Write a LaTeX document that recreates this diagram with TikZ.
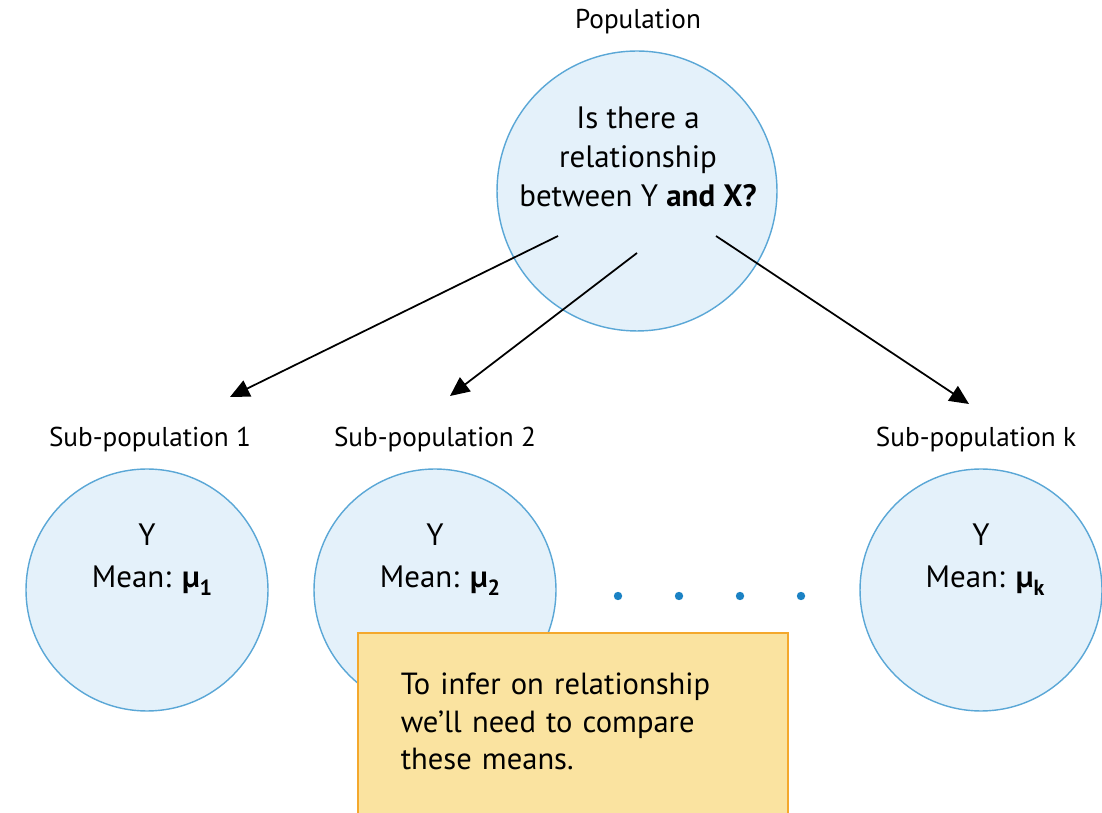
\documentclass[tikz,border=0pt]{standalone}
\usepackage{fontspec}
\setmainfont{PT Sans}
\usetikzlibrary{arrows.meta}

\definecolor{popfill}{HTML}{E4F1FA}
\definecolor{popline}{HTML}{5AA7D6}
\definecolor{dotblue}{HTML}{1B82C4}
\definecolor{notefill}{HTML}{FAE3A0}
\definecolor{noteline}{HTML}{F4A82C}

\newcommand{\meanof}[1]{\textbf{µ\raisebox{-0.5ex}{\fontsize{12.5}{12}\selectfont #1}}}

\begin{document}
\begin{tikzpicture}[x=0.02cm, y=-0.02cm,
    popcircle/.style={circle, draw=popline, fill=popfill, line width=0.8pt, inner sep=0pt},
    bigtext/.style={font=\fontsize{17.6}{22}\selectfont, align=center, inner sep=0pt},
    labeltext/.style={font=\fontsize{15.5}{18}\selectfont, inner sep=0pt},
    toparrow/.style={-{Triangle[length=11pt,width=10pt]}, line width=1pt},
    notebox/.style={rectangle, draw=noteline, fill=notefill, line width=0.9pt,
        align=left, text width=6.88cm, inner xsep=0.86cm, inner ysep=0.8cm,
        text depth=1.6cm, font=\fontsize{17.4}{21.5}\selectfont}]
    \useasboundingbox (0,0) rectangle (1102,813);
    \clip (0,0) rectangle (1102,813);
    % The population and its question.
        \node[labeltext] (poplabel) at (638,22) {Population};
        \node[popcircle, minimum size=5.6cm] (pop) at (637,191) {};
        \node[bigtext] (question) at (638,157) {Is there a\\relationship\\between Y \textbf{and X?}};
    % The sub-populations.
        \node[popcircle, minimum size=4.84cm] (sub1) at (147,590) {};
        \node[popcircle, minimum size=4.84cm] (sub2) at (435,590) {};
        \node[popcircle, minimum size=4.84cm] (subk) at (981,590) {};
        \node[labeltext] (sublabel1) at (150,440) {Sub-population 1};
        \node[labeltext] (sublabel2) at (435,440) {Sub-population 2};
        \node[labeltext] (sublabelk) at (976,440) {Sub-population k};
        \node[bigtext] (y1) at (147,535) {Y};
        \node[bigtext] (y2) at (435,535) {Y};
        \node[bigtext] (yk) at (981,535) {Y};
        \node[bigtext] (mean1) at (152,581) {Mean: \meanof{1}};
        \node[bigtext] (mean2) at (440,581) {Mean: \meanof{2}};
        \node[bigtext] (meank) at (985,581) {Mean: \meanof{k}};
    % Below are the ends of the arrows.
        \coordinate (from1) at (558,236);
        \coordinate (from2) at (637,253);
        \coordinate (fromk) at (716,236);
        \coordinate (to1) at (230,397);
        \coordinate (to2) at (450,396);
        \coordinate (tok) at (969,404);
        \draw[toparrow] (from1) -- (to1);
        \draw[toparrow] (from2) -- (to2);
        \draw[toparrow] (fromk) -- (tok);
    % The dots between the circles.
        \foreach \dx in {618,679,740,801}
            \fill[dotblue] (\dx,596) circle (4.2);
    % The note.
        \node[notebox, anchor=north west] (note) at (357,632)
            {To infer on relationship\\we’ll need to compare\\these means.};
\end{tikzpicture}
\end{document}
